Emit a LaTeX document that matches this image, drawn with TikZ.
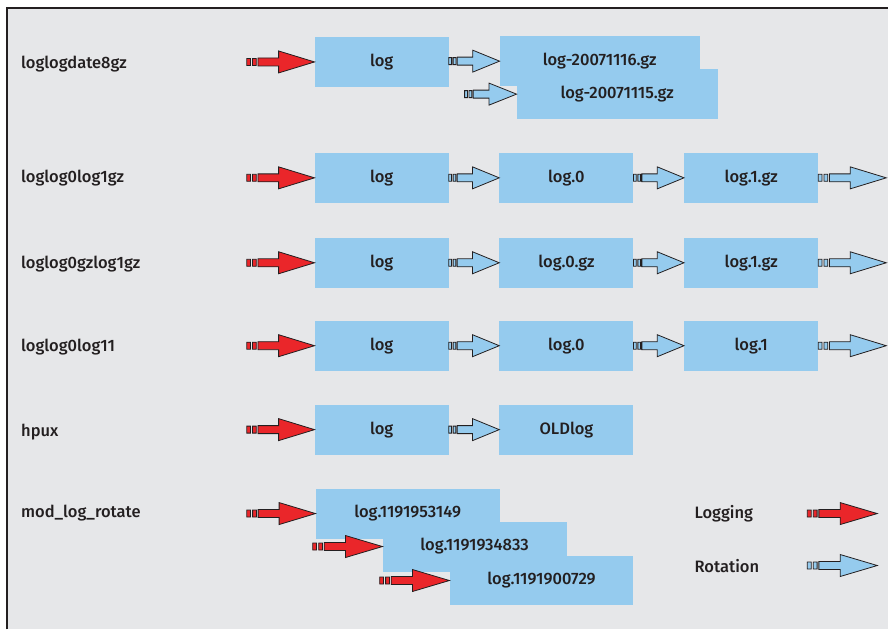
\documentclass[tikz,border=0pt]{standalone}
\usepackage{fontspec}
\setmainfont{Fira Sans}[UprightFont={* Medium}]
\usetikzlibrary{positioning,calc}
\definecolor{PanelGray}{RGB}{230,231,233}
\definecolor{FileBlue}{RGB}{149,203,238}
\definecolor{LogRed}{RGB}{234,38,42}
\definecolor{InkGray}{RGB}{35,31,32}

\tikzset{
  fatarrow/.style={draw=InkGray, line width=0.8pt, to path={
    let \p1=(\tikztostart), \p2=(\tikztotarget), \n1={\x2-\x1} in
    (\x1,\y2-3.5pt) rectangle (\x1+0.055*\n1,\y2+3.5pt)
    (\x1+0.085*\n1,\y2-3.5pt) rectangle (\x1+0.14*\n1,\y2+3.5pt)
    (\x1+0.165*\n1,\y2-4pt) -- (\x1+0.47*\n1,\y2-4pt) -- (\x1+0.47*\n1,\y2-11pt)
    -- (\x2,\y2) -- (\x1+0.47*\n1,\y2+11pt) -- (\x1+0.47*\n1,\y2+4pt)
    -- (\x1+0.165*\n1,\y2+4pt) -- cycle}},
  logging/.style={fatarrow, fill=LogRed},
  rotation/.style={fatarrow, fill=FileBlue},
  file/.style={fill=FileBlue, minimum width=134pt, minimum height=50pt, inner sep=0pt},
  scheme/.style={anchor=west, inner xsep=0pt}
}

\begin{document}
\begin{tikzpicture}[x=1pt, y=-1pt, node distance=50.5pt,
    every node/.style={font=\fontsize{16.5}{19}\selectfont, text=InkGray}]
  \fill[white] (0,0) rectangle (889,630);
  \fill[PanelGray] (7,8) rectangle (889,630);
  \draw[InkGray, line width=1.5pt] (7,630) -- (7,8) -- (889,8);

  \node[scheme] (s1) at (21,64) {loglogdate8gz};
  \node[file] (r1a) at (382,62) {log};
  \node[file, minimum width=200pt, anchor=north west] (r1b) at (500,36) {log-20071116.gz};
  \node[file, minimum width=201pt, anchor=north west] (r1c) at (517,69) {log-20071115.gz};
  \coordinate (l1) at (247,62);
  \coordinate (k1) at (465,94);
  \draw[logging] (l1) to (r1a.west);
  \draw[rotation] (r1a.east) to (r1b.west);
  \draw[rotation] (k1) to (r1c.west);

  \node[scheme] (s2) at (21,178) {loglog0log1gz};
  \node[file] (r2a) at (382,178) {log};
  \node[file, right=of r2a] (r2b) {log.0};
  \node[file, right=of r2b] (r2c) {log.1.gz};
  \coordinate (l2) at (247,178);
  \coordinate (e2) at (887,178);
  \draw[logging] (l2) to (r2a.west);
  \draw[rotation] (r2a.east) to (r2b.west);
  \draw[rotation] (r2b.east) to (r2c.west);
  \draw[rotation] (r2c.east) to (e2);

  \node[scheme] (s3) at (21,264) {loglog0gzlog1gz};
  \node[file] (r3a) at (382,263) {log};
  \node[file, right=of r3a] (r3b) {log.0.gz};
  \node[file, right=of r3b] (r3c) {log.1.gz};
  \coordinate (l3) at (247,263);
  \coordinate (e3) at (887,263);
  \draw[logging] (l3) to (r3a.west);
  \draw[rotation] (r3a.east) to (r3b.west);
  \draw[rotation] (r3b.east) to (r3c.west);
  \draw[rotation] (r3c.east) to (e3);

  \node[scheme] (s4) at (21,347) {loglog0log11};
  \node[file] (r4a) at (382,346) {log};
  \node[file, right=of r4a] (r4b) {log.0};
  \node[file, right=of r4b] (r4c) {log.1};
  \coordinate (l4) at (247,346);
  \coordinate (e4) at (887,346);
  \draw[logging] (l4) to (r4a.west);
  \draw[rotation] (r4a.east) to (r4b.west);
  \draw[rotation] (r4b.east) to (r4c.west);
  \draw[rotation] (r4c.east) to (e4);

  \node[scheme] (s5) at (21,432) {hpux};
  \node[file] (r5a) at (382,430) {log};
  \node[file, right=of r5a] (r5b) {OLDlog};
  \coordinate (l5) at (247,430);
  \draw[logging] (l5) to (r5a.west);
  \draw[rotation] (r5a.east) to (r5b.west);

  \node[scheme] (s6) at (21,514) {mod\_log\_rotate};
  \node[file, minimum width=184pt] (r6a) at (408,514) {log.1191953149};
  \node[file, minimum width=184pt] (r6b) at (475,547) {log.1191934833};
  \node[file, minimum width=184pt] (r6c) at (542,581) {log.1191900729};
  \coordinate (l6a) at (247,514);
  \coordinate (l6b) at (313,547);
  \coordinate (l6c) at (380,581);
  \draw[logging] (l6a) to (r6a.west);
  \draw[logging] (l6b) to (r6b.west);
  \draw[logging] (l6c) to (r6c.west);

  \node[scheme] (logging) at (695,514) {Logging};
  \node[scheme] (rotation) at (695,567) {Rotation};
  \coordinate (ga) at (808,514);
  \coordinate (gb) at (878,514);
  \coordinate (ra) at (808,566);
  \coordinate (rb) at (878,566);
  \draw[logging] (ga) to (gb);
  \draw[rotation] (ra) to (rb);
\end{tikzpicture}
\end{document}
